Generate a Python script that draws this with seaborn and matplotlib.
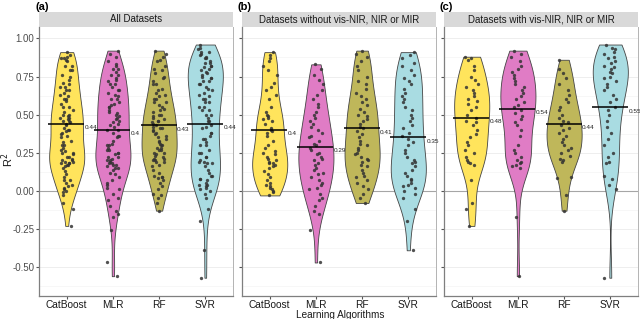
import numpy as np
import pandas as pd
import matplotlib.pyplot as plt
import seaborn as sns
from matplotlib.patches import Rectangle
from matplotlib.ticker import MultipleLocator

plt.rcParams['font.family'] = ['Liberation Sans', 'DejaVu Sans']

# Data (R2 per dataset)

algos = ['CatBoost', 'MLR', 'RF', 'SVR']

# datasets without vis-NIR, NIR or MIR
cb_without = [0.91, 0.89, 0.87, 0.85, 0.82, 0.79, 0.76, 0.71, 0.68, 0.66, 0.63, 0.6, 0.55,
              0.52, 0.5, 0.49, 0.48, 0.47, 0.46, 0.44, 0.41, 0.4, 0.39, 0.38, 0.36, 0.33,
              0.3, 0.28, 0.26, 0.25, 0.24, 0.22, 0.21, 0.2, 0.19, 0.18, 0.18, 0.17, 0.16,
              0.15, 0.13, 0.11, 0.09, 0.07, 0.05, 0.04, 0.03, 0.02, 0.01, 0.0, -0.01, -0.03]
mlr_without = [0.83, 0.8, 0.76, 0.73, 0.7, 0.66, 0.63, 0.6, 0.57, 0.55, 0.52, 0.5, 0.48,
               0.46, 0.44, 0.42, 0.4, 0.38, 0.36, 0.35, 0.33, 0.31, 0.3, 0.28, 0.27, 0.25,
               0.24, 0.22, 0.21, 0.2, 0.18, 0.17, 0.15, 0.14, 0.12, 0.11, 0.09, 0.07, 0.05,
               0.04, 0.02, 0.01, -0.02, -0.05, -0.06, -0.1, -0.13, -0.15, -0.26, -0.47]
rf_without = [0.92, 0.9, 0.88, 0.85, 0.82, 0.79, 0.75, 0.72, 0.7, 0.67, 0.64, 0.62, 0.6,
              0.58, 0.56, 0.54, 0.52, 0.5, 0.49, 0.47, 0.46, 0.44, 0.42, 0.41, 0.39, 0.37,
              0.35, 0.33, 0.31, 0.3, 0.28, 0.27, 0.25, 0.24, 0.22, 0.21, 0.2, 0.19, 0.17,
              0.16, 0.14, 0.12, 0.1, 0.09, 0.07, 0.05, 0.03, 0.01, -0.02, -0.05, -0.08]
svr_without = [0.91, 0.89, 0.87, 0.84, 0.82, 0.79, 0.76, 0.74, 0.72, 0.7, 0.67, 0.64, 0.62,
               0.6, 0.58, 0.55, 0.53, 0.5, 0.48, 0.46, 0.43, 0.41, 0.38, 0.36, 0.34, 0.32,
               0.3, 0.27, 0.25, 0.22, 0.2, 0.19, 0.18, 0.16, 0.14, 0.12, 0.1, 0.08, 0.07,
               0.05, 0.04, 0.03, 0.02, 0.0, -0.02, -0.05, -0.12, -0.2, -0.39]

# datasets with vis-NIR, NIR or MIR
cb_with = [0.88, 0.87, 0.86, 0.82, 0.79, 0.75, 0.73, 0.7, 0.68, 0.66, 0.64, 0.62, 0.6,
           0.59, 0.57, 0.55, 0.53, 0.5, 0.48, 0.46, 0.45, 0.43, 0.4, 0.37, 0.35, 0.32,
           0.3, 0.27, 0.25, 0.22, 0.2, 0.19, 0.18, 0.17, 0.07, -0.08, -0.12, -0.23]
mlr_with = [0.92, 0.9, 0.88, 0.85, 0.82, 0.8, 0.78, 0.76, 0.74, 0.72, 0.7, 0.68, 0.66,
            0.64, 0.62, 0.6, 0.58, 0.56, 0.55, 0.53, 0.51, 0.49, 0.47, 0.45, 0.43, 0.4,
            0.36, 0.3, 0.27, 0.25, 0.22, 0.2, 0.19, 0.18, 0.17, 0.16, 0.15, -0.17, -0.56]
rf_with = [0.86, 0.8, 0.77, 0.74, 0.7, 0.66, 0.63, 0.6, 0.58, 0.55, 0.53, 0.5, 0.48,
           0.46, 0.45, 0.43, 0.41, 0.4, 0.38, 0.36, 0.34, 0.32, 0.3, 0.28, 0.27, 0.25,
           0.23, 0.21, 0.2, 0.19, 0.09, 0.085, -0.03, -0.13]
svr_with = [0.96, 0.94, 0.93, 0.91, 0.9, 0.88, 0.87, 0.85, 0.84, 0.82, 0.81, 0.8, 0.78,
            0.77, 0.75, 0.74, 0.72, 0.7, 0.68, 0.66, 0.63, 0.6, 0.58, 0.55, 0.53, 0.5,
            0.46, 0.42, 0.38, 0.34, 0.3, 0.25, 0.22, 0.19, 0.18, 0.1, 0.08, 0.04, 0.01,
            -0.57]

# mean R2 labels
means_all = [0.44, 0.4, 0.43, 0.44]
means_without = [0.4, 0.29, 0.41, 0.35]
means_with = [0.48, 0.54, 0.44, 0.55]

panel_titles = ['All Datasets', 'Datasets without vis-NIR, NIR or MIR',
                'Datasets with vis-NIR, NIR or MIR']
panel_tags = ['(a)', '(b)', '(c)']

colors = {'CatBoost': '#FFE45C', 'MLR': '#E07CC5', 'RF': '#BFB75A', 'SVR': '#A9DCE2'}


def make_df(lists):
    rows = []
    for algo, vals in zip(algos, lists):
        for v in vals:
            rows.append((algo, v))
    return pd.DataFrame(rows, columns=['algo', 'r2'])


df_without = make_df([cb_without, mlr_without, rf_without, svr_without])
df_with = make_df([cb_with, mlr_with, rf_with, svr_with])
df_all = pd.concat([df_without, df_with], ignore_index=True)

frames = [df_all, df_without, df_with]
means = [means_all, means_without, means_with]

# Figure

fig = plt.figure(figsize=(6.4, 3.19), dpi=100)

lefts = [39, 242, 444]
np.random.seed(3)

for k in range(3):
    ax = fig.add_axes([lefts[k] / 640, 1 - 296 / 319, 194 / 640, 269 / 319])

    ax.axhline(0, color='#a6a6a6', lw=0.8, zorder=0.8)

    sns.violinplot(data=frames[k], x='algo', y='r2', hue='algo', order=algos,
                   hue_order=algos, palette=colors, saturation=1, cut=0, inner=None,
                   bw_method='silverman', bw_adjust=0.8, density_norm='area',
                   width=0.76, linewidth=0.6, linecolor='#444444', legend=False, ax=ax)

    sns.stripplot(data=frames[k], x='algo', y='r2', order=algos, color='#333333',
                  size=2.4, jitter=0.15, alpha=0.85, linewidth=0, ax=ax)

    for i, m in enumerate(means[k]):
        ax.hlines(m, i - 0.4, i + 0.38, color='black', lw=1.1, zorder=5)
        ax.text(i + 0.39, m - 0.01, str(m), fontsize=4.6, va='top', ha='left',
                color='#222222', zorder=6)

    ax.set_xlim(-0.6, 3.6)
    ax.set_ylim(-0.69, 1.075)
    ax.yaxis.set_major_locator(MultipleLocator(0.25))
    ax.yaxis.set_minor_locator(MultipleLocator(0.125))
    ax.grid(axis='y', which='major', color='#ebebeb', lw=0.6)
    ax.grid(axis='y', which='minor', color='#f2f2f2', lw=0.4)
    ax.set_axisbelow(True)
    ax.set_xlabel('')
    ax.set_ylabel('')
    ax.tick_params(axis='both', which='major', length=2, color='#555555', pad=0.8)
    ax.tick_params(axis='y', which='minor', length=0)
    ax.tick_params(axis='x', labelsize=7.3, labelcolor='#1a1a1a')
    ax.tick_params(axis='y', labelsize=7, labelcolor='#4d4d4d', pad=1.5)
    if k == 0:
        ax.set_yticklabels(['%.2f' % t for t in ax.get_yticks()])
    else:
        ax.set_yticklabels([])

    for side in ['left', 'bottom']:
        ax.spines[side].set_color('#7f7f7f')
        ax.spines[side].set_linewidth(0.9)
    ax.spines['right'].set_color('#b3b3b3')
    ax.spines['right'].set_linewidth(0.7)
    ax.spines['top'].set_visible(False)

    # facet strip
    ax.add_patch(Rectangle((0, 1.0), 1, 0.056, transform=ax.transAxes,
                           facecolor='#d9d9d9', edgecolor='none', clip_on=False))
    ax.text(0.5, 1.028, panel_titles[k], transform=ax.transAxes, ha='center',
            va='center', fontsize=7, color='#1a1a1a')

    fig.text((lefts[k] - 4) / 640, 1 - 7 / 319, panel_tags[k], fontsize=8,
             fontweight='bold', ha='left', va='center')

fig.text(8 / 640, 1 - 160 / 319, 'R$^2$', rotation=90, fontsize=8,
         ha='center', va='center', color='#1a1a1a')
fig.text(340 / 640, 1 - 315.5 / 319, 'Learning Algorithms', fontsize=7.2,
         ha='center', va='center', color='#1a1a1a')

plt.savefig('out.png', dpi=100)
